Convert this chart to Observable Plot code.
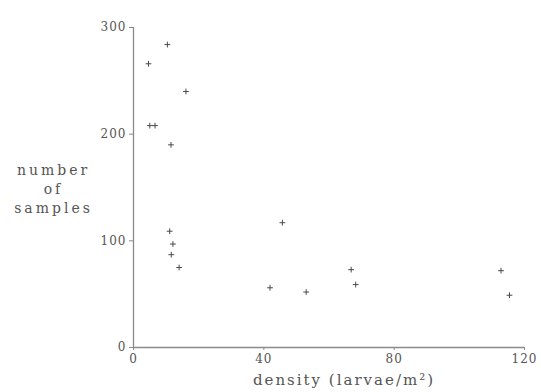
<!DOCTYPE html>
<html>
<head>
<meta charset="utf-8">
<script src="https://cdn.jsdelivr.net/npm/d3@7"></script>
<script src="https://cdn.jsdelivr.net/npm/@observablehq/plot@0.6"></script>
<style>
  html, body { margin: 0; padding: 0; background: #fff; }
  #chart svg { display: block; }
</style>
</head>
<body>
<div id="chart"></div>
<script>
// density (larvae/m^2)
const density = [4.6, 10.4, 16.1, 5.0, 6.6, 11.5, 11.1, 12.1, 11.6, 14.0, 45.7, 41.9, 53.0, 66.8, 68.2, 112.8, 115.4];
// number of samples
const samples = [266, 284, 240, 208, 208, 190, 109, 97, 87, 75, 117, 56, 52, 73, 59, 72, 49];
const xTicks = [0, 40, 80, 120];
const yTicks = [0, 100, 200, 300];
const xLabel = "density (larvae/m²)";
const yLabel = "number\nof\nsamples";

const data = density.map((d, i) => ({density: d, samples: samples[i]}));
const ink = "#555";
const axisInk = "#8a8a8a";
const font = "'DejaVu Serif', 'Liberation Serif', serif";

const chart = Plot.plot({
  width: 541,
  height: 392,
  marginLeft: 133,
  marginRight: 17,
  marginTop: 27,
  marginBottom: 45,
  style: {fontFamily: font, fontSize: "11px", color: ink, background: "#fff"},
  x: {domain: [0, 120]},
  y: {domain: [0, 300]},
  marks: [
    Plot.ruleX([0], {stroke: axisInk, strokeWidth: 1.3}),
    Plot.ruleY([0], {stroke: axisInk, strokeWidth: 1.3}),
    Plot.axisX({ticks: xTicks, tickSize: 3, tickPadding: 4, stroke: axisInk, label: null, fill: ink, fontSize: 12}),
    Plot.axisY({ticks: yTicks, tickSize: 4, tickPadding: 3, stroke: axisInk, label: null, fill: ink, fontSize: 12}),
    Plot.dot(data, {x: "density", y: "samples", symbol: "plus", r: 2, stroke: "#4a4a4a", strokeWidth: 1}),
    Plot.text([xLabel], {frameAnchor: "bottom", dx: 15, dy: 37, text: d => d, fill: ink, fontSize: 15, fontFamily: font}),
    Plot.text([yLabel], {frameAnchor: "left", dx: -80, dy: 0, textAnchor: "middle", text: d => d, fill: ink, fontSize: 14, fontFamily: font, lineHeight: 1.36})
  ]
});
d3.select(chart).selectAll('g[aria-label="text"] text').each(function(d, i) {
  d3.select(this).attr("letter-spacing", i === 0 ? "2px" : "3px");
});
d3.select(chart).selectAll('g[aria-label$="tick label"] text').attr("letter-spacing", "1px");
document.getElementById("chart").append(chart);
</script>
</body>
</html>
